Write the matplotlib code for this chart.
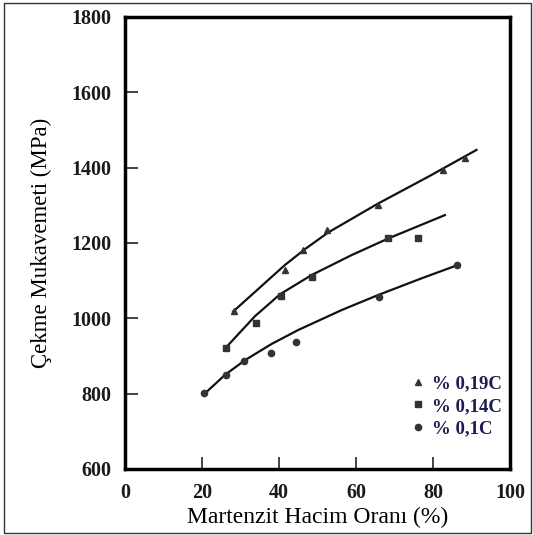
import matplotlib
matplotlib.use('Agg')
import matplotlib.pyplot as plt
from matplotlib.patches import Rectangle

plt.rcParams['font.family'] = ['Liberation Serif', 'DejaVu Serif']

# measured points (martensite %, tensile strength MPa)
x_019 = [28.2, 41.6, 46.3, 52.4, 65.8, 82.7, 88.3]
y_019 = [1020, 1128, 1181, 1234, 1300, 1394, 1425]
x_014 = [26.2, 34.0, 40.5, 48.6, 68.2, 76.0]
y_014 = [921, 988, 1059, 1110, 1212, 1212]
x_01 = [20.5, 26.2, 30.9, 37.9, 44.4, 66.0, 86.2]
y_01 = [802, 850, 887, 908, 937, 1057, 1142]

# fitted curves
cx_019 = [28.1, 35.5, 41.6, 46.8, 52.8, 65.8, 78.8, 91.3]
cy_019 = [1018, 1086, 1142, 1184, 1228, 1305, 1376, 1447]
cx_014 = [26.0, 33.8, 40.3, 48.5, 58.9, 68.4, 83.1]
cy_014 = [920, 1006, 1064, 1115, 1168, 1212, 1274]
cx_01 = [20.8, 26.0, 31.2, 38.1, 45.0, 56.3, 65.8, 77.0, 86.6]
cy_01 = [801, 850, 889, 932, 969, 1022, 1062, 1106, 1142]

labels = ['% 0,19C', '% 0,14C', '% 0,1C']

fig = plt.figure(figsize=(5.33, 5.35), dpi=100)
ax = fig.add_axes([0.2345, 0.1234, 0.7223, 0.8449])

fig.patches.append(Rectangle((4 / 533, 2 / 535), 527 / 533, 530 / 535,
                             transform=fig.transFigure, fill=False,
                             edgecolor='#333333', linewidth=1.0))

lc = '#111111'
ax.plot(cx_019, cy_019, color=lc, lw=1.6)
ax.plot(cx_014, cy_014, color=lc, lw=1.6)
ax.plot(cx_01, cy_01, color=lc, lw=1.6)

mc = '#333333'
ax.plot(x_019, y_019, '^', color=mc, ms=4.5, label=labels[0])
ax.plot(x_014, y_014, 's', color=mc, ms=4, label=labels[1])
ax.plot(x_01, y_01, 'o', color=mc, ms=4.5, label=labels[2])

ax.set_xlim(0, 100)
ax.set_ylim(600, 1800)
ax.set_xticks([0, 20, 40, 60, 80, 100])
ax.set_yticks([600, 800, 1000, 1200, 1400, 1600, 1800])

for s in ax.spines.values():
    s.set_linewidth(2.5)

ax.tick_params(direction='in', length=9, width=1.2, pad=10, color='#222222')
for t in ax.get_xticklabels() + ax.get_yticklabels():
    t.set_fontweight('bold')
    t.set_fontsize(14.5)
    t.set_color('#1a1a1a')

ax.set_xlabel('Martenzit Hacim Oranı (%)', fontsize=17, labelpad=3)
ax.set_ylabel('Çekme Mukavemeti (MPa)', fontsize=16.5, labelpad=14)

leg = ax.legend(loc='lower right', bbox_to_anchor=(1.022, 0.032), frameon=False,
                handletextpad=0.25, handlelength=1.0, labelspacing=0.3,
                prop={'weight': 'bold', 'size': 13.5})
for t in leg.get_texts():
    t.set_color('#1c1c50')

fig.savefig('out.png', dpi=100)
